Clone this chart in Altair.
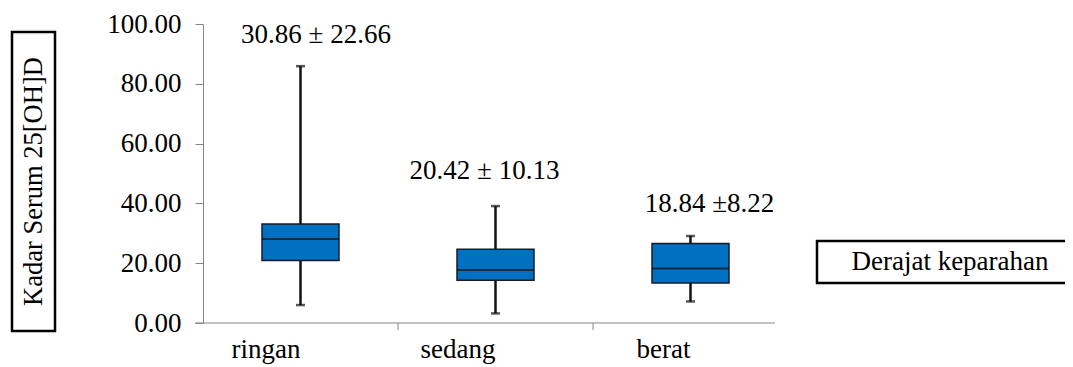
import altair as alt
import pandas as pd

categories = ["ringan", "sedang", "berat"]
whisker_low = [6.0, 3.2, 7.2]
q1 = [20.9, 14.3, 13.4]
median = [28.1, 17.7, 18.2]
q3 = [33.1, 24.7, 26.6]
whisker_high = [85.9, 39.1, 29.1]
annotations = ["30.86 ± 22.66", "20.42 ± 10.13", "18.84 ±8.22"]
annotation_y = [93.5, 48.3, 37.2]

y_title = "Kadar Serum 25[OH]D"
legend_title = "Derajat keparahan"

FONT = "Liberation Serif"
AXIS_GRAY = "#868686"
BOX_BLUE = "#0070C0"

df = pd.DataFrame({
    "cat": categories,
    "lo": whisker_low,
    "q1": q1,
    "med": median,
    "q3": q3,
    "hi": whisker_high,
    "ann": annotations,
    "ann_y": annotation_y,
})

xscale = alt.Scale(domain=categories)
yscale = alt.Scale(domain=[0, 100])

x_enc = alt.X("cat:N", scale=xscale, sort=categories,
              axis=alt.Axis(title=None, domain=False, ticks=False, labelAngle=0,
                            labelFont=FONT, labelFontSize=27, labelColor="black",
                            labelPadding=26))
x_plain = alt.X("cat:N", scale=xscale, sort=categories)

y_axis = alt.Axis(title=None, values=[0, 20, 40, 60, 80, 100], format=".2f",
                  grid=False, domainColor=AXIS_GRAY, tickColor=AXIS_GRAY,
                  tickSize=8, labelFont=FONT, labelFontSize=27,
                  labelColor="black", labelPadding=14)

base = alt.Chart(df)

whisker = base.mark_rule(color="#111111", strokeWidth=2.5).encode(
    x=x_enc,
    y=alt.Y("lo:Q", scale=yscale, axis=y_axis),
    y2="hi:Q",
)

box = base.mark_bar(size=77, color=BOX_BLUE, stroke="#1a1a2a", strokeWidth=1.5).encode(
    x=x_plain,
    y=alt.Y("q1:Q", scale=yscale),
    y2="q3:Q",
)

med_tick = base.mark_tick(size=77, thickness=2, color="#111111").encode(
    x=x_plain,
    y=alt.Y("med:Q", scale=yscale),
)

cap_hi = base.mark_tick(size=9, thickness=2.5, color="#111111").encode(
    x=x_plain,
    y=alt.Y("hi:Q", scale=yscale),
)
cap_lo = base.mark_tick(size=9, thickness=2.5, color="#111111").encode(
    x=x_plain,
    y=alt.Y("lo:Q", scale=yscale),
)

ann_layers = []
for cat, dx in zip(categories, [15.5, -11, 19]):
    ann_layers.append(
        base.transform_filter(alt.datum.cat == cat).mark_text(
            font=FONT, fontSize=27, color="black", baseline="alphabetic",
            align="center", dx=dx,
        ).encode(
            x=x_plain,
            y=alt.Y("ann_y:Q", scale=yscale),
            text="ann:N",
        )
    )

# category boundary ticks on the x axis
bound_df = pd.DataFrame({"cat": categories[1:]})
bound_ticks = alt.Chart(bound_df).mark_rule(color=AXIS_GRAY, strokeWidth=1).encode(
    x=alt.X("cat:N", scale=xscale, sort=categories, bandPosition=0),
    y=alt.value(299),
    y2=alt.value(306),
)

# x axis baseline
xline_df = pd.DataFrame({"k": [0]})
x_line = alt.Chart(xline_df).mark_rule(color=AXIS_GRAY, strokeWidth=1).encode(
    x=alt.value(-8), x2=alt.value(572), y=alt.value(299),
)

# boxed y title
ytitle_df = pd.DataFrame({"t": [y_title]})
ytitle_box = alt.Chart(ytitle_df).mark_rect(fillOpacity=0, stroke="black",
                                            strokeWidth=2.5).encode(
    x=alt.value(-191), x2=alt.value(-148), y=alt.value(8), y2=alt.value(307),
)
ytitle_text = alt.Chart(ytitle_df).mark_text(font=FONT, fontSize=26.5, color="black",
                                             angle=270, align="center",
                                             baseline="middle").encode(
    x=alt.value(-169), y=alt.value(157.5), text="t:N",
)

# boxed legend-like label
leg_df = pd.DataFrame({"t": [legend_title]})
leg_box = alt.Chart(leg_df).mark_rect(fillOpacity=0, stroke="black",
                                      strokeWidth=2.5).encode(
    x=alt.value(614), x2=alt.value(868), y=alt.value(217), y2=alt.value(259),
)
leg_text = alt.Chart(leg_df).mark_text(font=FONT, fontSize=27, color="black",
                                       align="center", baseline="middle").encode(
    x=alt.value(747), y=alt.value(238), text="t:N",
)

chart = alt.layer(
    x_line, bound_ticks, whisker, cap_hi, cap_lo, box, med_tick, *ann_layers,
    ytitle_box, ytitle_text, leg_box, leg_text,
).resolve_scale(x="shared", y="shared").properties(
    width=585, height=299,
    autosize=alt.AutoSizeParams(type="none"),
    padding={"left": 195, "top": 16, "right": 277, "bottom": 44},
    background="white",
).configure_view(stroke=None)

chart.save("out.html", embed_options={"renderer": "svg", "actions": False})
